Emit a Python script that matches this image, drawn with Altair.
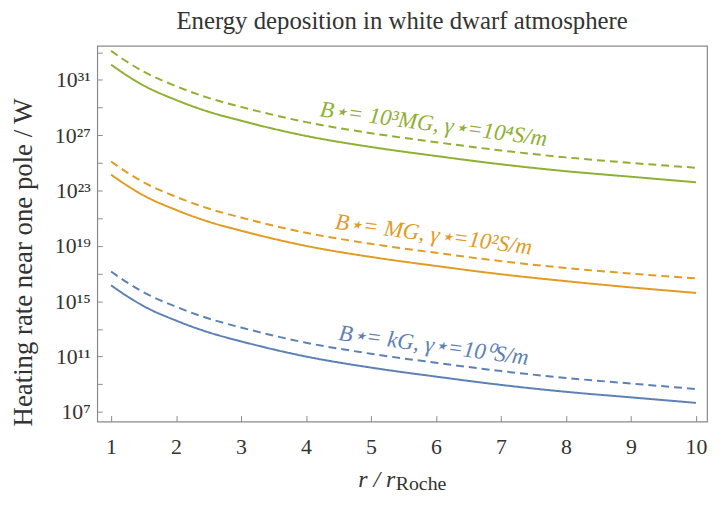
import altair as alt
import pandas as pd

# ---- data (log10 of heating rate) ----
r_vals = [1, 1.25, 1.5, 2, 2.5, 3, 4, 5, 6, 7, 8, 9, 10]
green_solid = [32.1, 31.3, 30.6, 29.55, 28.7, 28.05, 26.95, 26.15, 25.5, 24.9, 24.4, 24.0, 23.6]
green_dash = [33.1, 32.3, 31.6, 30.55, 29.7, 29.05, 27.95, 27.15, 26.5, 25.9, 25.4, 25.0, 24.65]
orange_solid = [24.15, 23.35, 22.65, 21.6, 20.75, 20.1, 19.0, 18.2, 17.55, 16.95, 16.45, 16.0, 15.6]
orange_dash = [25.1, 24.3, 23.6, 22.55, 21.7, 21.05, 19.95, 19.15, 18.5, 17.9, 17.4, 17.0, 16.65]
blue_solid = [16.15, 15.35, 14.65, 13.6, 12.75, 12.1, 11.0, 10.2, 9.55, 8.95, 8.45, 8.05, 7.65]
blue_dash = [17.15, 16.35, 15.65, 14.6, 13.75, 13.1, 12.0, 11.2, 10.55, 9.95, 9.45, 9.05, 8.65]

series_names = ["kG", "MG", "1e3MG"]
series_colors = ["#5E81B5", "#E19C24", "#8FB032"]

label_texts = ["B⋆= kG, γ⋆=10⁰S/m", "B⋆= MG, γ⋆=10²S/m", "B⋆= 10³MG, γ⋆=10⁴S/m"]
label_r = [5.95, 5.95, 5.95]
label_logy = [11.3, 19.3, 27.3]

x_ticks = [1, 2, 3, 4, 5, 6, 7, 8, 9, 10]
y_tick_exps = list(range(7, 34, 2))
y_label_exps = [7, 11, 15, 19, 23, 27, 31]

# ---- build tables ----
rows = []
for name, solid, dash in [("kG", blue_solid, blue_dash),
                          ("MG", orange_solid, orange_dash),
                          ("1e3MG", green_solid, green_dash)]:
    for r, s, d in zip(r_vals, solid, dash):
        rows.append({"r": r, "P": 10 ** s, "series": name, "style": "solid", "key": name + "s"})
        rows.append({"r": r, "P": 10 ** d, "series": name, "style": "dashed", "key": name + "d"})
df = pd.DataFrame(rows)

lab = pd.DataFrame({
    "r": label_r,
    "P": [10 ** v for v in label_logy],
    "text": label_texts,
    "series": series_names,
})

sup = str.maketrans("0123456789", "⁰¹²³⁴⁵⁶⁷⁸⁹")
label_expr = ""
for e in y_label_exps:
    label_expr += f"round(log(datum.value)/LN10) == {e} ? '10{str(e).translate(sup)}' : "
label_expr += "''"

FONT = "Liberation Serif"

xscale = alt.Scale(domain=[0.787, 10.17], nice=False, zero=False)
yscale = alt.Scale(type="log", domain=[10 ** 6.3, 10 ** 33.47], nice=False)
cscale = alt.Scale(domain=series_names, range=series_colors)

lines = alt.Chart(df).mark_line(strokeWidth=2, interpolate="monotone", clip=True).encode(
    x=alt.X("r:Q", scale=xscale,
            axis=alt.Axis(values=x_ticks, format="d", title="r / r", titleFontStyle="italic",
                          titleFont=FONT, titleFontSize=24, titleFontWeight="normal",
                          titleColor="#333", titleX=300, titleY=66, titleAlign="right",
                          titleBaseline="alphabetic",
                          labelPadding=21, tickSize=alt.expr("-6"), grid=False, domain=False)),
    y=alt.Y("P:Q", scale=yscale,
            axis=alt.Axis(values=[10 ** k for k in y_tick_exps], labelExpr=label_expr,
                          title="Heating rate near one pole / W", titleFont=FONT,
                          titleFontSize=27, titleFontWeight="normal", titleColor="#333",
                          titleAngle=270, titleX=-66, titleY=218, titleAlign="center",
                          titleBaseline="alphabetic",
                          labelPadding=12, tickSize=alt.expr("-5"), grid=False, domain=False)),
    color=alt.Color("series:N", scale=cscale, legend=None),
    strokeDash=alt.StrokeDash("style:N", scale=alt.Scale(domain=["solid", "dashed"],
                                                          range=[[1, 0], [8, 5]]), legend=None),
    detail="key:N",
)

texts = alt.Chart(lab).mark_text(font=FONT, fontSize=23, fontStyle="italic", angle=7.5,
                                 align="center", baseline="alphabetic").encode(
    x=alt.X("r:Q", scale=xscale),
    y=alt.Y("P:Q", scale=yscale),
    text="text:N",
    color=alt.Color("series:N", scale=cscale, legend=None),
)

sub = alt.Chart(pd.DataFrame({"t": ["Roche"]})).mark_text(
    font=FONT, fontSize=20, align="left", baseline="alphabetic", color="#333"
).encode(x=alt.value(301), y=alt.value(379 + 69), text="t:N")

chart = alt.layer(lines, texts, sub).properties(
    width=615, height=379,
    background="white",
    title=alt.TitleParams("Energy deposition in white dwarf atmosphere", font=FONT,
                          fontSize=25, fontWeight="normal", color="#333",
                          baseline="alphabetic", offset=-8, anchor="middle"),
    autosize=alt.AutoSizeParams(type="none"),
    padding={"left": 90, "top": 36, "right": 5, "bottom": 74},
).configure_view(stroke="#8a8a8a", strokeWidth=1.2).configure_axis(
    labelFont=FONT, labelFontSize=22, labelColor="#333", tickColor="#8a8a8a", tickWidth=1
)

chart.save("out.html", embed_options={"renderer": "svg", "actions": False})
